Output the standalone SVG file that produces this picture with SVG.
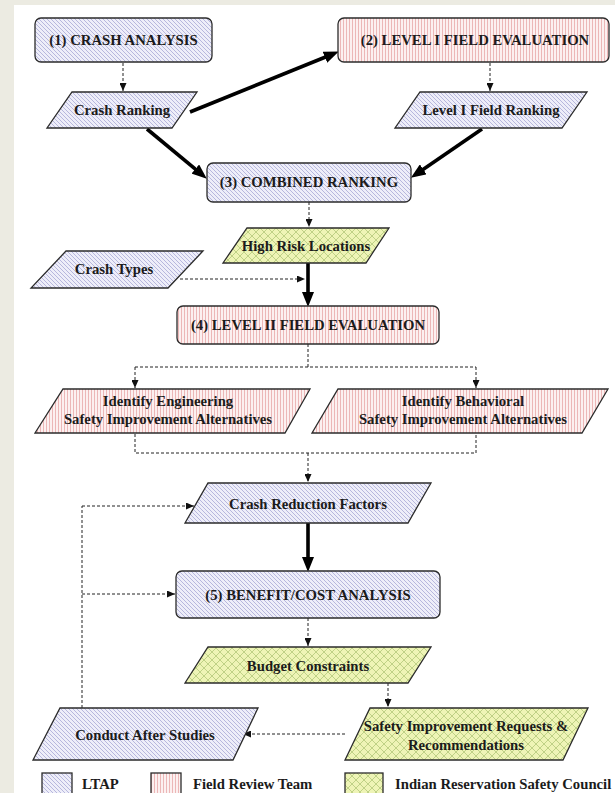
<svg xmlns="http://www.w3.org/2000/svg" width="615" height="793" viewBox="0 0 615 793">
  <defs>
    <!-- LTAP: light lavender with diagonal hatching -->
    <pattern id="pLtap" patternUnits="userSpaceOnUse" width="4" height="4">
      <rect width="4" height="4" fill="#eeeef9"/>
      <path d="M-1,-1 L5,5 M-1,3 L1,5 M3,-1 L5,1" stroke="#a8a8d6" stroke-width="0.8"/>
    </pattern>
    <!-- Field Review Team: pale pink with vertical rules -->
    <pattern id="pField" patternUnits="userSpaceOnUse" width="3" height="3">
      <rect width="3" height="3" fill="#fcf0f0"/>
      <line x1="1.5" y1="0" x2="1.5" y2="3" stroke="#e8a8a8" stroke-width="0.8"/>
    </pattern>
    <!-- Safety Council: yellow-green lattice -->
    <pattern id="pCouncil" patternUnits="userSpaceOnUse" width="8" height="8">
      <rect width="8" height="8" fill="#eef4b6"/>
      <path d="M0,0 L8,8 M8,0 L0,8" stroke="#bacd80" stroke-width="0.9"/>
    </pattern>
    <marker id="headBig" markerUnits="userSpaceOnUse" markerWidth="15" markerHeight="12" refX="6" refY="6" orient="auto">
      <path d="M0,0 L15,6 L0,12 Z" fill="#000"/>
    </marker>
    <marker id="headSmall" markerUnits="userSpaceOnUse" markerWidth="8" markerHeight="7" refX="8" refY="3.5" orient="auto">
      <path d="M0,0 L8,3.5 L0,7 Z" fill="#111"/>
    </marker>
  </defs>
  <style>
    .ltap { fill: url(#pLtap); }
    .field { fill: url(#pField); }
    .council { fill: url(#pCouncil); }
    .box { stroke: #2b2b2b; stroke-width: 1.3; }
    .lbl { font-family: "Liberation Serif", "Times New Roman", serif; font-weight: bold; font-size: 15.5px; fill: #1b1b1b; text-anchor: middle;
           transform-box: fill-box; transform-origin: center; transform: scaleX(0.95); }
    .lbl.left { text-anchor: start; transform-origin: left center; }
    .thick { stroke: #000; stroke-width: 3.6; fill: none; marker-end: url(#headBig); }
    .dash { stroke: #222; stroke-width: 1; stroke-dasharray: 3 2; fill: none; }
    .dashA { stroke: #222; stroke-width: 1; stroke-dasharray: 3 2; fill: none; marker-end: url(#headSmall); }
  </style>

  <!-- page background -->
  <rect width="615" height="793" fill="#ecebe2"/>
  <rect x="14" y="5" width="601" height="788" fill="#ffffff"/>

  <!-- connectors -->
  <g id="connectors">
    <line class="dashA" x1="123" y1="63" x2="123" y2="91"/>
    <line class="dashA" x1="490" y1="63" x2="490" y2="91"/>
    <line class="thick" x1="190" y1="112" x2="330.5" y2="55"/>
    <line class="thick" x1="147" y1="129" x2="199.9" y2="172.9"/>
    <line class="thick" x1="482" y1="129" x2="418.3" y2="172.7"/>
    <line class="dashA" x1="309" y1="202" x2="309" y2="227"/>
    <line class="dashA" x1="180" y1="279" x2="305" y2="279"/>
    <line class="thick" x1="308" y1="263" x2="308" y2="298"/>
    <path class="dash" d="M308,344 V367 M135,367 H476"/>
    <line class="dashA" x1="135" y1="367" x2="135" y2="388"/>
    <line class="dashA" x1="476" y1="367" x2="476" y2="388"/>
    <path class="dash" d="M135,434 V453 H476 V434"/>
    <line class="dashA" x1="308" y1="453" x2="308" y2="482"/>
    <line class="thick" x1="308" y1="523" x2="308" y2="563"/>
    <line class="dashA" x1="308" y1="618" x2="308" y2="646"/>
    <line class="dashA" x1="388" y1="683" x2="388" y2="707"/>
    <line class="dashA" x1="345" y1="734" x2="243" y2="734"/>
    <path class="dash" d="M82,708 V506"/>
    <line class="dashA" x1="82" y1="506" x2="194" y2="506"/>
    <line class="dashA" x1="82" y1="594" x2="175" y2="594"/>
  </g>

  <g id="crash-analysis">
    <rect class="box ltap" x="35" y="18" width="177" height="44" rx="6"/>
    <text class="lbl" x="123.5" y="45">(1) CRASH ANALYSIS</text>
  </g>
  <g id="level1-field-evaluation">
    <rect class="box field" x="338" y="18" width="271" height="44" rx="6"/>
    <text class="lbl" x="475" y="45">(2) LEVEL I FIELD EVALUATION</text>
  </g>
  <g id="crash-ranking">
    <polygon class="box ltap" points="72,92 197,92 172,128 47,128"/>
    <text class="lbl" x="122" y="115">Crash Ranking</text>
  </g>
  <g id="level1-field-ranking">
    <polygon class="box ltap" points="420,92 587,92 562,128 395,128"/>
    <text class="lbl" x="491" y="115">Level I Field Ranking</text>
  </g>
  <g id="combined-ranking">
    <rect class="box ltap" x="207" y="163" width="204" height="39" rx="6"/>
    <text class="lbl" x="309" y="187">(3) COMBINED RANKING</text>
  </g>
  <g id="high-risk-locations">
    <polygon class="box council" points="247,228 389,228 366,263 223,263"/>
    <text class="lbl" x="306" y="251">High Risk Locations</text>
  </g>
  <g id="crash-types">
    <polygon class="box ltap" points="66,251 203,251 168,288 31,288"/>
    <text class="lbl" x="114" y="274">Crash Types</text>
  </g>
  <g id="level2-field-evaluation">
    <rect class="box field" x="177" y="306" width="262" height="38" rx="6"/>
    <text class="lbl" x="308" y="330">(4) LEVEL II FIELD EVALUATION</text>
  </g>
  <g id="engineering-alternatives">
    <polygon class="box field" points="63,389 310,389 285,433 35,433"/>
    <text class="lbl" x="168" y="406">Identify Engineering</text>
    <text class="lbl" x="168" y="424">Safety Improvement Alternatives</text>
  </g>
  <g id="behavioral-alternatives">
    <polygon class="box field" points="338,389 608,389 582,433 312,433"/>
    <text class="lbl" x="463" y="406">Identify Behavioral</text>
    <text class="lbl" x="463" y="424">Safety Improvement Alternatives</text>
  </g>
  <g id="crash-reduction-factors">
    <polygon class="box ltap" points="208,483 431,483 408,523 185,523"/>
    <text class="lbl" x="308" y="509">Crash Reduction Factors</text>
  </g>
  <g id="benefit-cost-analysis">
    <rect class="box ltap" x="176" y="571" width="264" height="47" rx="6"/>
    <text class="lbl" x="308" y="600">(5) BENEFIT/COST ANALYSIS</text>
  </g>
  <g id="budget-constraints">
    <polygon class="box council" points="208,647 431,647 408,683 185,683"/>
    <text class="lbl" x="308" y="671">Budget Constraints</text>
  </g>
  <g id="safety-requests">
    <polygon class="box council" points="370,708 588,708 563,760 345,760"/>
    <text class="lbl" x="466" y="731">Safety Improvement Requests &amp;</text>
    <text class="lbl" x="466" y="750">Recommendations</text>
  </g>
  <g id="after-studies">
    <polygon class="box ltap" points="60,708 258,708 233,760 33,760"/>
    <text class="lbl" x="145" y="740">Conduct After Studies</text>
  </g>

  <!-- legend -->
  <g id="legend">
    <rect class="box ltap" x="42" y="773" width="30" height="22"/>
    <text class="lbl left" x="82" y="789">LTAP</text>
    <rect class="box field" x="151" y="773" width="30" height="22"/>
    <text class="lbl left" x="193" y="789">Field Review Team</text>
    <rect class="box council" x="345" y="773" width="38" height="22"/>
    <text class="lbl left" x="395" y="789">Indian Reservation Safety Council</text>
  </g>
</svg>
